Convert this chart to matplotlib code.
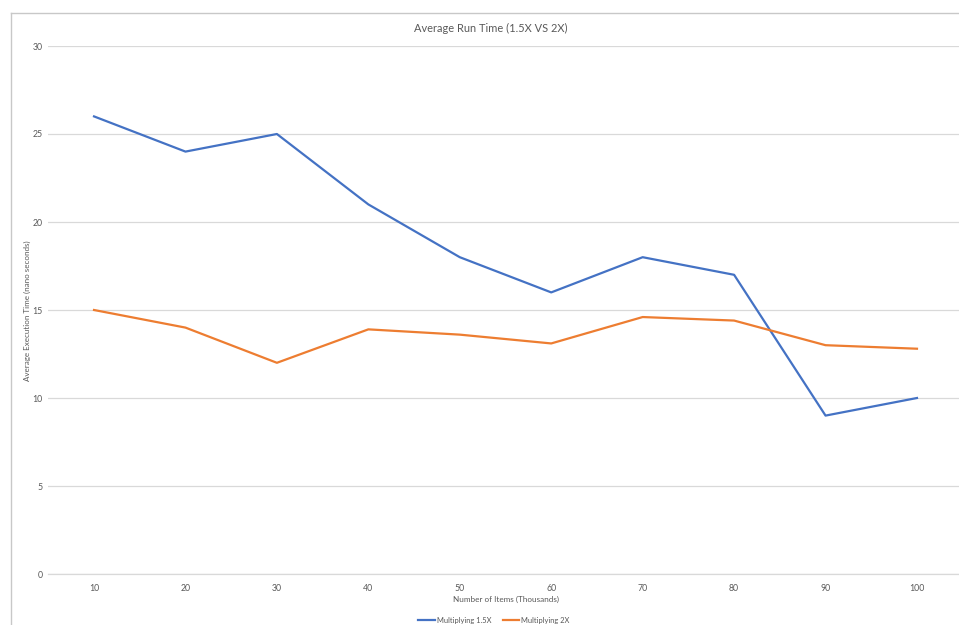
import matplotlib
matplotlib.use("Agg")
import matplotlib.pyplot as plt
from matplotlib.lines import Line2D

# Data: average run time per batch size
items_thousands = ["10", "20", "30", "40", "50", "60", "70", "80", "90", "100"]
mult_1_5x = [26, 24, 25, 21, 18, 16, 18, 17, 9, 10]
mult_2x = [15, 14, 12, 13.9, 13.6, 13.1, 14.6, 14.4, 13.0, 12.8]
y_ticks = [0, 5, 10, 15, 20, 25, 30]

BLUE = "#4472C4"
ORANGE = "#ED7D31"
GRID = "#D9D9D9"
TEXT = "#595959"
FONT = ["Lato", "DejaVu Sans"]

plt.rcParams["font.family"] = FONT

W, H = 959, 625
fig = plt.figure(figsize=(W / 100, H / 100), dpi=100)
fig.patch.set_facecolor("white")

# plot area in pixels
left_px, right_px, top_px, bottom_px = 48.3, 962.7, 46, 574
ax = fig.add_axes([left_px / W, 1 - bottom_px / H,
                   (right_px - left_px) / W, (bottom_px - top_px) / H])

x = list(range(1, len(items_thousands) + 1))
ax.plot(x, mult_1_5x, color=BLUE, lw=1.6, solid_joinstyle="round",
        label="Multiplying 1.5X")
ax.plot(x, mult_2x, color=ORANGE, lw=1.6, solid_joinstyle="round",
        label="Multiplying 2X")

ax.set_xlim(0.5, len(items_thousands) + 0.5)
ax.set_ylim(0, 30)
ax.set_yticks(y_ticks)
ax.set_yticklabels([str(v) for v in y_ticks])
ax.set_xticks(x)
ax.set_xticklabels(items_thousands)

ax.grid(axis="y", color=GRID, lw=0.9)
ax.set_axisbelow(True)
for s in ["top", "right", "left"]:
    ax.spines[s].set_visible(False)
ax.spines["bottom"].set_color(GRID)
ax.spines["bottom"].set_linewidth(0.9)
ax.tick_params(axis="both", length=0, labelsize=6.3, labelcolor=TEXT)
ax.tick_params(axis="y", pad=4)
ax.tick_params(axis="x", pad=7)

ax.set_xlabel("Number of Items (Thousands)", fontsize=5.9, color=TEXT, labelpad=2.5)
fig.text(27 / W, 1 - 311 / H, "Average Execution Time (nano seconds)",
         rotation=90, ha="center", va="center", fontsize=5.8, color=TEXT)

fig.text(491 / W, 1 - 28 / H, "Average Run Time (1.5X VS 2X)",
         ha="center", va="center", fontsize=7.9, color=TEXT)

# Chart frame (left and top edges)
fig.add_artist(Line2D([10.5 / W, 10.5 / W], [0, 1 - 13 / H],
                      transform=fig.transFigure, color="#C8C8C8", lw=1))
fig.add_artist(Line2D([10.5 / W, 1], [1 - 13 / H, 1 - 13 / H],
                      transform=fig.transFigure, color="#C8C8C8", lw=1))

fig.legend(loc="center", bbox_to_anchor=(494 / W, 1 - 620 / H), ncol=2,
           frameon=False, fontsize=5.4, handlelength=2.2, handletextpad=0.3,
           columnspacing=1.5, labelcolor=TEXT)

fig.savefig("out.png", dpi=100)
